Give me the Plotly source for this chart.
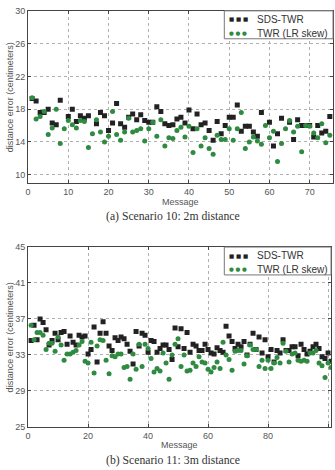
import plotly.graph_objects as go

# ---- Scenario 10 (2 m) ----
msg_a = list(range(1, 76))
sds_a = [19.3, 19.0, 17.6, 17.6, 18.0, 16.3, 16.1, 19.1, None, 17.1,
         18.0, 16.5, 17.2, 16.9, 17.2, None, 16.2, 17.6, 17.2, 15.4,
         16.3, 18.7, 16.2, 15.8, 17.0, 17.4, 16.7, 17.3, 16.6, 16.4,
         16.4, 18.3, 17.7, 16.2, 16.0, 16.1, 16.8, 17.0, 16.3, 17.9,
         15.6, 17.4, 16.1, 16.3, 15.4, 14.2, 16.5, 15.0, 16.0, 17.0,
         17.0, 18.5, 15.3, 15.9, 15.9, 15.2, 14.7, 17.6, None, 16.4,
         13.5, 15.0, 16.9, None, 16.4, 14.3, 16.7, 16.0, 16.0, 16.0,
         14.6, 16.0, 15.1, 15.3, 17.1]
twr_a = [19.4, 16.8, 17.1, 17.7, 14.9, 15.7, 18.0, 13.8, 15.6, 16.6,
         16.1, 15.7, 16.6, 16.5, 13.3, 15.0, 16.7, 15.2, 14.0, 14.7,
         17.7, 14.9, 14.2, 15.2, 16.9, 15.2, 15.4, 15.6, 14.1, 15.6,
         16.4, 14.7, 16.7, 13.5, 14.5, 14.4, 15.4, 15.8, 14.6, 15.9,
         12.7, 15.6, 13.5, 14.5, 13.2, 12.5, 14.8, 14.3, 14.3, 15.6,
         14.2, 15.6, 17.6, 13.2, 14.0, 14.6, 14.1, 13.7, 16.0, 14.5,
         15.3, 11.6, 13.8, 15.6, 16.6, 15.2, 15.9, 12.8, 16.0, 15.9,
         15.1, 14.5, 16.2, 13.9, 14.8]

# ---- Scenario 11 (3 m) ----
msg_b = list(range(1, 102))
sds_b = [34.6, 36.3, 34.7, 37.0, 36.6, 35.8, 34.1, 34.6, 35.4, 34.7,
         35.5, 35.6, 34.2, 35.1, 34.4, 34.1, 35.2, 35.0, 35.1, 33.1,
         33.6, 36.1, 32.2, 35.4, 36.7, 35.4, 34.0, 33.5, 34.9, 34.6,
         35.0, 34.8, 34.2, 33.4, 32.0, 35.6, 34.0, 35.4, 35.2, 33.3,
         34.6, 34.5, 33.3, 33.7, 34.1, 34.1, 33.6, 32.5, 36.0, 33.9,
         35.9, 33.7, 35.5, 33.3, 34.2, 34.0, 33.5, 33.5, 34.2, 33.6,
         33.2, 33.1, 33.8, 33.5, 33.3, 36.2, 35.1, 34.5, 33.7, 34.2,
         33.9, 34.5, 33.0, 34.2, 35.4, 33.6, 35.0, 33.2, 34.7, 32.8,
         33.6, 32.2, 33.5, 33.2, 34.7, 33.5, 33.5, 33.9, 33.9, 32.9,
         34.2, 33.6, 33.1, 33.4, 33.9, 34.2, 33.7, 32.8, 32.6, 33.2,
         32.3]
twr_b = [36.3, 34.7, 35.5, 35.5, 35.2, 33.6, 34.3, 34.3, 33.4, 35.0,
         34.1, 32.4, 33.1, 33.1, 33.3, 33.5, 34.1, 34.5, 32.3, 32.1,
         34.4, 31.0, 34.0, 34.7, 34.6, 32.4, 30.9, 32.9, 32.8, 33.1,
         33.1, 31.6, 31.7, 30.3, 33.1, 31.4, 34.2, 31.7, 34.2, 33.7,
         32.6, 31.1, 31.5, 31.2, 33.2, 32.1, 30.3, 33.0, 34.2, 34.8,
         31.7, 33.0, 31.2, 31.3, 32.1, 31.7, 32.8, 32.2, 32.1, 31.4,
         31.1, 31.6, 32.2, 31.5, 34.4, 33.0, 32.5, 31.3, 33.4, 33.5,
         33.5, 32.0, 32.9, 34.1, 33.6, 33.6, 31.7, 32.4, 31.5, 32.4,
         31.5, 32.1, 32.7, 32.1, 34.3, 33.4, 32.2, 33.1, 33.2, 32.4,
         32.3, 32.4, 32.3, 33.2, 33.2, 33.5, 32.1, 31.8, 30.5, 32.1,
         31.6]

ticks_xa = [0, 10, 20, 30, 40, 50, 60, 70]
ticks_ya = [10, 14, 18, 22, 26, 30]
ticks_xb = [0, 20, 40, 60, 80, 100]
ticks_yb = [25, 29, 33, 37, 41, 45]

names = ["SDS-TWR", "TWR (LR skew)"]
captions = ["(a) Scenario 10: 2m distance", "(b) Scenario 11: 3m distance"]

W, H = 335, 470
BLACK = "#222222"
GREEN = "#2e8b40"
SANS = "Liberation Sans"
SERIF = "Liberation Serif"

fig = go.Figure()

fig.add_trace(go.Scatter(x=msg_a, y=sds_a, mode="markers", name=names[0],
                         marker=dict(symbol="square", size=5, color=BLACK),
                         xaxis="x", yaxis="y"))
fig.add_trace(go.Scatter(x=msg_a, y=twr_a, mode="markers", name=names[1],
                         marker=dict(symbol="circle", size=5, color=GREEN),
                         xaxis="x", yaxis="y"))
fig.add_trace(go.Scatter(x=msg_b, y=sds_b, mode="markers", name=names[0],
                         marker=dict(symbol="square", size=5, color=BLACK),
                         xaxis="x2", yaxis="y2"))
fig.add_trace(go.Scatter(x=msg_b, y=twr_b, mode="markers", name=names[1],
                         marker=dict(symbol="circle", size=5, color=GREEN),
                         xaxis="x2", yaxis="y2"))


def px_x(p):
    return p / W


def px_y(p):
    return 1 - p / H


axis_common = dict(
    showline=True, linecolor="#444444", linewidth=1, mirror="ticks",
    ticks="inside", ticklen=3, tickcolor="#444444",
    showgrid=True, gridcolor="#b0b0b0", griddash="dot", gridwidth=1,
    zeroline=False, tickfont=dict(family=SANS, size=9, color="#555555"),
)

left_x = 25.3
panels = [
    dict(top=6.0, bottom=181.7, right=333.0, msg_y=201, cap_y=216.5),
    dict(top=247.3, bottom=431.0, right=331.0, msg_y=450, cap_y=465),
]

fig.update_layout(
    width=W, height=H,
    margin=dict(l=0, r=0, t=0, b=0),
    paper_bgcolor="white", plot_bgcolor="white",
    showlegend=False,
    xaxis=dict(axis_common, domain=[px_x(left_x), px_x(panels[0]["right"])],
               range=[0, 75.8], tickvals=ticks_xa, anchor="y"),
    yaxis=dict(axis_common, domain=[px_y(panels[0]["bottom"]), px_y(panels[0]["top"])],
               range=[9, 30], tickvals=ticks_ya, anchor="x"),
    xaxis2=dict(axis_common, domain=[px_x(left_x), px_x(panels[1]["right"])],
                range=[0, 101], tickvals=ticks_xb, anchor="y2"),
    yaxis2=dict(axis_common, domain=[px_y(panels[1]["bottom"]), px_y(panels[1]["top"])],
                range=[25, 45], tickvals=ticks_yb, anchor="x2"),
)

annots = []
shapes = []
for i, p in enumerate(panels):
    txt_font = dict(family=SANS, size=9, color="#555555")
    annots.append(dict(text="distance error (centimeters)", textangle=-90,
                       x=px_x(6.5), y=px_y((p["top"] + p["bottom"]) / 2),
                       xref="paper", yref="paper", xanchor="center", yanchor="middle",
                       showarrow=False, font=txt_font))
    annots.append(dict(text="Message", x=px_x((left_x + p["right"]) / 2), y=px_y(p["msg_y"]),
                       xref="paper", yref="paper", xanchor="center", yanchor="middle",
                       showarrow=False, font=txt_font, borderpad=0))
    annots.append(dict(text=captions[i], x=px_x(172), y=px_y(p["cap_y"]),
                       xref="paper", yref="paper", xanchor="center", yanchor="middle",
                       showarrow=False, font=dict(family=SERIF, size=11.7, color="#333333")))
    # legend box (matplotlib-style, three scatter points per entry)
    bx0, bx1 = 223.3, p["right"]
    by0, by1 = p["top"], p["top"] + 28.5
    shapes.append(dict(type="rect", xref="paper", yref="paper",
                       x0=px_x(bx0), x1=px_x(bx1), y0=px_y(by1), y1=px_y(by0),
                       line=dict(color="#777777", width=1), fillcolor="white", layer="above"))
    rows = [(names[0], "\u25a0 \u25a0 \u25a0", BLACK, 5.5, p["top"] + 8.7),
            (names[1], "\u25cf \u25cf \u25cf", GREEN, 5.5, p["top"] + 22.7)]
    for label, glyph, col, gsize, ry in rows:
        annots.append(dict(text=glyph, x=px_x(237.5), y=px_y(ry), xref="paper", yref="paper",
                           xanchor="center", yanchor="middle", showarrow=False,
                           font=dict(family="DejaVu Sans", size=gsize, color=col)))
        annots.append(dict(text=label, x=px_x(254.5), y=px_y(ry), xref="paper", yref="paper",
                           xanchor="left", yanchor="middle", showarrow=False,
                           font=dict(family=SANS, size=10, color="#333333")))

fig.update_layout(annotations=annots, shapes=shapes)

fig.write_html("out.html")
